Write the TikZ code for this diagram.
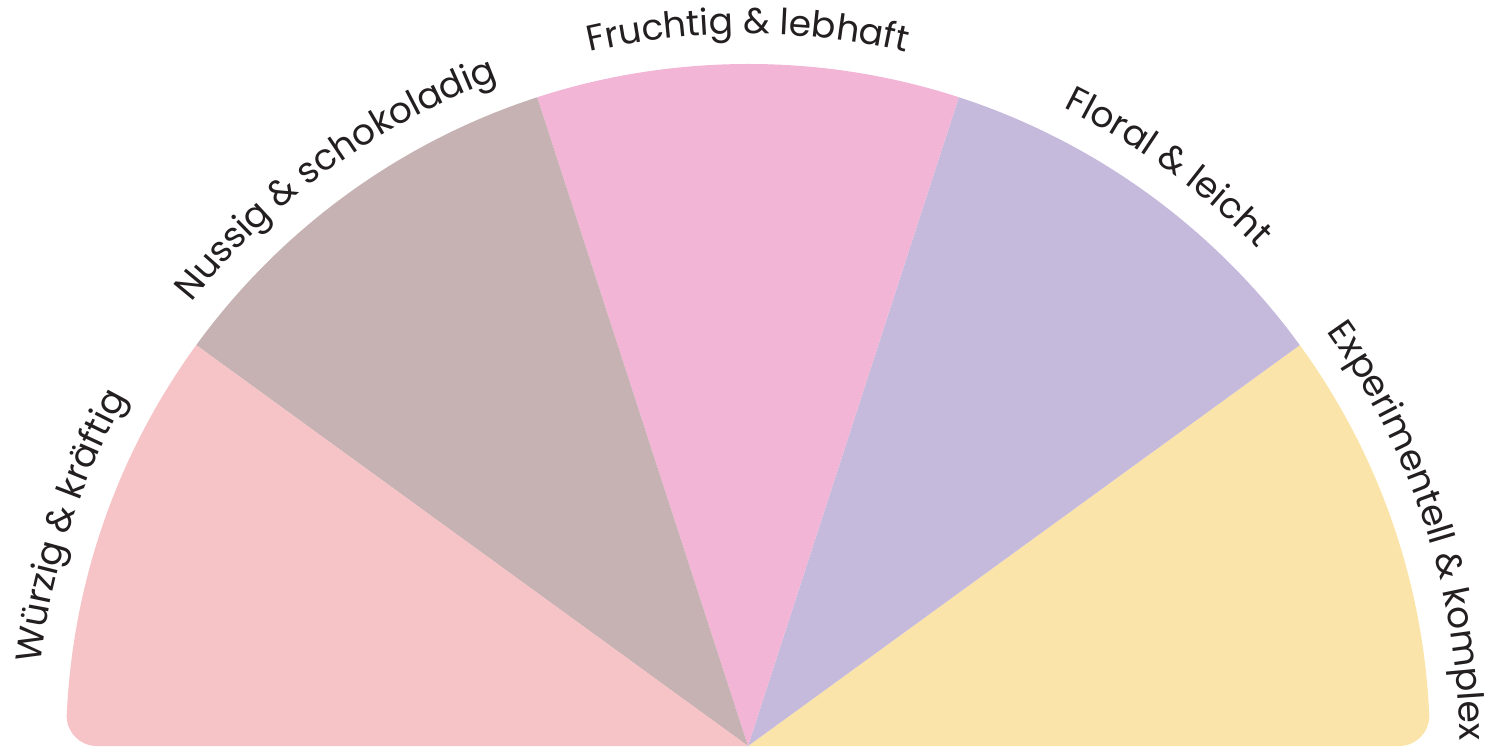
\documentclass[tikz,border=0pt]{standalone}
\usepackage{fontspec}
\setmainfont{Poppins}
\definecolor{cWuerz}{HTML}{F6C3C6}
\definecolor{cNuss}{HTML}{C6B2B3}
\definecolor{cFrucht}{HTML}{F3B5D6}
\definecolor{cFloral}{HTML}{C6BADC}
\definecolor{cExp}{HTML}{FBE4A9}
\definecolor{cText}{HTML}{231F20}
\font\lblprim="Poppins" at 36pt
\tikzset{
  glyph/.style={inner sep=0pt, outer sep=0pt, anchor=base, text=cText, font=\lblprim}
}
\newdimen\arcw
\newdimen\chw
\def\arcR{712}
% #1 mid angle, #2 text (spaces written as ~)
\newcommand{\arctext}[2]{%
  \setbox0=\hbox{\lblprim #2}\arcw=\wd0
  \pgfmathsetmacro{\curang}{#1 + (\arcw/\arcR)*180/pi/2}%
  \global\let\curang\curang
  \arcloop#2\relax}
\def\arcloop#1{\ifx#1\relax\else\placeglyph{#1}\expandafter\arcloop\fi}
\newcommand{\placeglyph}[1]{%
  \setbox0=\hbox{\lblprim #1}\chw=\wd0
  \pgfmathsetmacro{\stepang}{(\chw/\arcR)*180/pi}%
  \pgfmathsetmacro{\midang}{\curang-\stepang/2}%
  \pgfmathsetmacro{\rotang}{\midang-90}%
  \node[glyph, rotate=\rotang] at (\midang:\arcR) {#1};%
  \pgfmathsetmacro{\curang}{\curang-\stepang}%
  \global\let\curang\curang}
\begin{document}
\begin{tikzpicture}[x=1pt,y=1pt]
\useasboundingbox (-748,-7) rectangle (752,746);
\begin{scope}
\clip (-651.3,0) -- (651.3,0) arc[start angle=-90, end angle=0, radius=30]
  arc[start angle=2.52, end angle=177.48, radius=682]
  arc[start angle=180, end angle=270, radius=30] -- cycle;
\fill[cExp] (0,0) -- (0:720) arc[start angle=0, end angle=36, radius=720] -- cycle;
\fill[cFloral] (0,0) -- (36:720) arc[start angle=36, end angle=72, radius=720] -- cycle;
\fill[cFrucht] (0,0) -- (72:720) arc[start angle=72, end angle=108, radius=720] -- cycle;
\fill[cNuss] (0,0) -- (108:720) arc[start angle=108, end angle=144, radius=720] -- cycle;
\fill[cWuerz] (0,0) -- (144:720) arc[start angle=144, end angle=180, radius=720] -- cycle;
\end{scope}
\arctext{162}{Würzig~\&~kräftig}
\arctext{126}{Nussig~\&~schokoladig}
\arctext{90}{Fruchtig~\&~lebhaft}
\arctext{54}{Floral~\&~leicht}
\arctext{18}{Experimentell~\&~komplex}
\end{tikzpicture}
\end{document}
